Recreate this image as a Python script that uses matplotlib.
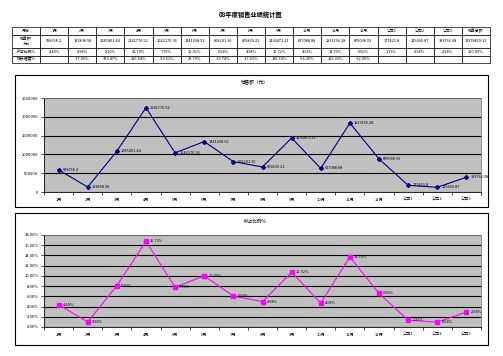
import matplotlib
matplotlib.use('Agg')
import matplotlib.pyplot as plt
from matplotlib.patches import Rectangle
from matplotlib.ticker import FuncFormatter, MultipleLocator

plt.rcParams['font.family'] = ['Noto Sans CJK SC', 'DejaVu Sans']

title = '08年度销售业绩统计图'
categories = ['1月', '2月', '3月', '4月', '5月', '6月', '7月', '8月', '9月', '10月',
              '11月', '12月', '公司1', '公司2', '公司3']
sales = [589658.2, 131808.58, 1085401.44, 2241776.52, 1042170.36, 1341268.52, 808201.36,
         665830.21, 1436471.21, 627088.88, 1833196.28, 879098.59, 177421.8, 125660.87, 393766.08]
share = [4.40, 0.98, 8.10, 16.73, 7.79, 10.01, 6.04, 4.98, 10.72, 4.68, 13.70, 6.56, 1.33, 0.94, 2.94]
growth = ['', '-77.65%', '723.47%', '106.54%', '-53.51%', '28.70%', '-39.74%', '-17.61%',
          '115.74%', '-56.35%', '192.33%', '-52.05%', '', '', '']
total_sales = '13378819.12'
row_labels = ['月份', '销售额\n（元）', '所占比例%', '增长幅度%']

W, H = 503, 356
fig = plt.figure(figsize=(W / 100, H / 100), dpi=100)
fig.patch.set_facecolor('white')


def fx(px):
    return px / W


def fy(py):
    return 1 - py / H


def fmt_num(v):
    s = '%.2f' % v
    return s.rstrip('0').rstrip('.')


fig.text(fx(251), fy(14), title, ha='center', va='center', fontsize=4.5, fontweight='bold')

# --- table ---
tab_ax = fig.add_axes([fx(12), fy(63), fx(478), (63 - 27) / H])
tab_ax.axis('off')
cells = [
    [row_labels[0]] + categories + ['销售总额'],
    [row_labels[1]] + [fmt_num(v) for v in sales] + [total_sales],
    [row_labels[2]] + ['%.2f%%' % v for v in share] + ['100.00%'],
    [row_labels[3]] + growth + [''],
]
tbl = tab_ax.table(cellText=cells, cellLoc='center', bbox=[0, 0, 1, 1])
tbl.auto_set_font_size(False)
tbl.set_fontsize(2.8)
row_h = [8, 13, 8, 7]
for (r, c), cell in tbl.get_celld().items():
    cell.set_height(row_h[r])
    cell.set_linewidth(0.5)
    cell.PAD = 0.02

# --- chart frames ---
for top, bottom in [(75, 207), (213, 345)]:
    fig.patches.append(Rectangle((fx(15), fy(bottom)), fx(473), (bottom - top) / H,
                                 transform=fig.transFigure, fill=False,
                                 edgecolor='black', linewidth=0.8))

x = list(range(len(categories)))


def style_axis(ax):
    ax.set_facecolor('#c0c0c0')
    ax.set_xlim(-0.5, len(categories) - 0.5)
    ax.set_xticks(x)
    ax.set_xticklabels(categories, fontsize=3)
    ax.set_xticks([i - 0.5 for i in x] + [len(categories) - 0.5], minor=True)
    ax.tick_params(axis='x', which='major', length=0, pad=4)
    ax.tick_params(axis='x', which='minor', length=2, width=0.5)
    ax.tick_params(axis='y', length=2, width=0.5, labelsize=3, pad=2)
    ax.yaxis.grid(True, color='black', linewidth=0.8)
    ax.set_axisbelow(True)
    for side in ['top', 'right']:
        ax.spines[side].set_color('#808080')
        ax.spines[side].set_linewidth(0.6)
    ax.spines['left'].set_linewidth(0.6)
    ax.spines['bottom'].set_linewidth(0.6)


# --- sales chart ---
ax1 = fig.add_axes([fx(44), fy(192), fx(437), 94 / H])
style_axis(ax1)
ax1.set_ylim(0, 2500000)
ax1.yaxis.set_major_locator(MultipleLocator(500000))
ax1.yaxis.set_major_formatter(FuncFormatter(lambda v, p: '%d' % v))
ax1.plot(x, sales, color='#000080', marker='D', markersize=2, linewidth=0.8)
for xi, v in zip(x, sales):
    ax1.annotate(fmt_num(v), (xi, v), xytext=(3, 0), textcoords='offset points',
                 fontsize=2.8, va='center', ha='left')
fig.text(fx(255), fy(83), '销售额（元）', ha='center', va='center', fontsize=3.3)

# --- share chart ---
ax2 = fig.add_axes([fx(44), fy(327), fx(437), 92 / H])
style_axis(ax2)
ax2.set_ylim(0, 18)
ax2.yaxis.set_major_locator(MultipleLocator(2))
ax2.yaxis.set_major_formatter(FuncFormatter(lambda v, p: '%.2f%%' % v))
ax2.plot(x, share, color='#ff00ff', marker='s', markersize=2.6, linewidth=0.8)
for xi, v in zip(x, share):
    ax2.annotate('%.2f%%' % v, (xi, v), xytext=(3, 0), textcoords='offset points',
                 fontsize=2.8, va='center', ha='left')
fig.text(fx(255), fy(221), '所占比例%', ha='center', va='center', fontsize=3.3)

plt.savefig('out.png', dpi=100)
